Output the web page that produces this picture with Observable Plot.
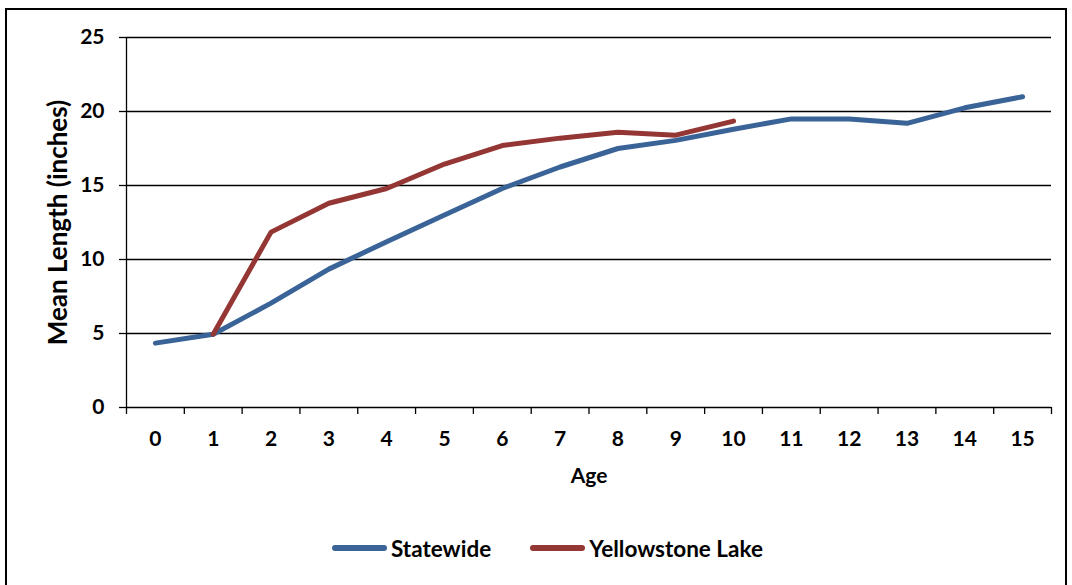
<!DOCTYPE html>
<html>
<head>
<meta charset="utf-8">
<script src="https://cdn.jsdelivr.net/npm/d3@7"></script>
<script src="https://cdn.jsdelivr.net/npm/@observablehq/plot@0.6"></script>
<style>
  html, body { margin: 0; padding: 0; background: #fff; }
  body { width: 1072px; height: 585px; position: relative; overflow: hidden; font-family: Lato, "Open Sans", sans-serif; }
  #frame { position: absolute; left: 5px; top: 8px; width: 1062px; height: 600px; border: 2px solid #000; box-sizing: border-box; }
  #chart { position: absolute; left: 0; top: 0; }
  #legend { position: absolute; left: 332px; top: 534px; display: flex; align-items: center; font-weight: bold; font-size: 22.5px; color: #000; }
  .item { display: flex; align-items: center; height: 28px; margin-right: 39px; }
  .sw { width: 55px; height: 6px; border-radius: 3px; margin-right: 4px; }
</style>
</head>
<body>
<div id="frame"></div>
<div id="chart"></div>
<div id="legend"></div>
<script>
const ages = [0, 1, 2, 3, 4, 5, 6, 7, 8, 9, 10, 11, 12, 13, 14, 15];
const statewide = [4.35, 4.95, 7.05, 9.35, 11.2, 13.0, 14.8, 16.25, 17.5, 18.05, 18.8, 19.5, 19.5, 19.2, 20.25, 21.0];
const yellowstone = [null, 4.95, 11.85, 13.8, 14.8, 16.45, 17.7, 18.2, 18.6, 18.4, 19.35];
const seriesNames = ["Statewide", "Yellowstone Lake"];
const seriesColors = ["#3A6497", "#943634"];
const yTicks = [0, 5, 10, 15, 20, 25];

const rows = [];
ages.forEach((a, i) => {
  if (statewide[i] != null) rows.push({age: a, value: statewide[i], series: seriesNames[0]});
});
ages.forEach((a, i) => {
  if (yellowstone[i] != null) rows.push({age: a, value: yellowstone[i], series: seriesNames[1]});
});
const boundaries = ages.map(a => a - 0.5).concat([ages[ages.length - 1] + 0.5]);

const font = "Lato, 'Open Sans', sans-serif";
const chart = Plot.plot({
  width: 1072,
  height: 585,
  marginLeft: 126,
  marginRight: 21,
  marginTop: 37,
  marginBottom: 178,
  style: {fontFamily: font, fontWeight: "bold", fontSize: "21px", color: "#000", background: "transparent"},
  x: {domain: [boundaries[0], boundaries[boundaries.length - 1]]},
  y: {domain: [0, 25]},
  color: {domain: seriesNames, range: seriesColors},
  marks: [
    Plot.gridY(yTicks.slice(1), {stroke: "#000", strokeOpacity: 1, strokeWidth: 1.3}),
    Plot.axisY(yTicks, {tickSize: 7, tickPadding: 15, label: null, fontSize: 21, fontWeight: "bold", strokeWidth: 1.3}),
    Plot.axisX(boundaries, {tickSize: 7, tickFormat: () => "", label: null, strokeWidth: 1.3}),
    Plot.axisX(ages, {tickSize: 0, tickPadding: 24, label: null, fontSize: 21, fontWeight: "bold"}),
    Plot.ruleX([boundaries[0]], {stroke: "#000", strokeWidth: 1.3}),
    Plot.ruleY([0], {stroke: "#000", strokeWidth: 1.3}),
    Plot.lineY(rows, {x: "age", y: "value", z: "series", stroke: "series", strokeWidth: 5, strokeLinejoin: "round", strokeLinecap: "round"}),
    Plot.text(["Age"], {frameAnchor: "bottom", dy: 75, fontSize: 21, fontWeight: "bold"}),
    Plot.text(["Mean Length (inches)"], {frameAnchor: "left", textAnchor: "middle", dx: -68, rotate: -90, fontSize: 26, fontWeight: "bold"})
  ]
});
document.getElementById("chart").appendChild(chart);

const legend = document.getElementById("legend");
seriesNames.forEach((name, i) => {
  const item = document.createElement("div");
  item.className = "item";
  const sw = document.createElement("div");
  sw.className = "sw";
  sw.style.background = seriesColors[i];
  const label = document.createElement("span");
  label.textContent = name;
  item.appendChild(sw);
  item.appendChild(label);
  legend.appendChild(item);
});
</script>
</body>
</html>
